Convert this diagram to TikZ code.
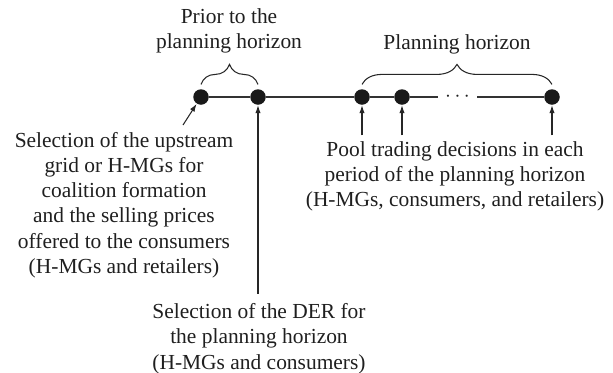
\documentclass[tikz,border=0pt]{standalone}
\usepackage{fontspec}
\setmainfont{Liberation Serif}
\usetikzlibrary{arrows.meta,decorations.pathreplacing}
\begin{document}
\begin{tikzpicture}[
    dot/.style={circle, fill=black!90, inner sep=0pt, minimum size=0.31cm},
    lbl/.style={align=center, text=black!88, font=\fontsize{12.2}{14.4}\selectfont},
    tl/.style={line width=0.6pt, black!80},
    arr/.style={line width=0.6pt, black!85, -{Latex[length=4.5pt,width=3pt]}},
    brc/.style={line width=0.6pt, black!85, decorate, decoration={brace, amplitude=0.4cm}}]
    \useasboundingbox (0,0) rectangle (12.26,-7.44);

    \node[dot] (d1) at (4.02,-1.94) {};
    \node[dot] (d2) at (5.16,-1.94) {};
    \node[dot] (d3) at (7.24,-1.94) {};
    \node[dot] (d4) at (8.04,-1.94) {};
    \node[dot] (d5) at (11.04,-1.94) {};
    \node[lbl, inner sep=0.14cm] (gap) at (9.15,-1.94) {$\cdots$};

    \node[lbl] (prior) at (4.58,-0.62) {Prior to the\\planning horizon};
    \node[lbl] (plan) at (9.14,-0.88) {Planning horizon};
    \node[lbl] (sel) at (2.48,-4.1) {Selection of the upstream\\grid or H-MGs for\\coalition formation\\and the selling prices\\offered to the consumers\\(H-MGs and retailers)};
    \node[lbl] (pool) at (9.1,-3.53) {Pool trading decisions in each\\period of the planning horizon\\(H-MGs, consumers, and retailers)};
    \node[lbl, inner sep=1pt] (der) at (5.18,-6.77) {Selection of the DER for\\the planning horizon\\(H-MGs and consumers)};
    \coordinate (a1) at (3.66,-2.5);

    \draw[tl] (d1) -- (d2) -- (d3) -- (d4) -- (gap.west);
    \draw[tl] (gap.east) -- (d5);

    \draw[brc] ([yshift=0.09cm]d1.north) -- ([yshift=0.09cm]d2.north);
    \draw[brc] ([yshift=0.09cm]d3.north) -- ([yshift=0.09cm]d5.north);

    \draw[arr] (a1) -- (d1);
    \draw[arr] ([yshift=0.15cm]der.north -| d2) -- (d2);
    \draw[arr] (pool.north -| d3) -- (d3);
    \draw[arr] (pool.north -| d4) -- (d4);
    \draw[arr] (pool.north -| d5) -- (d5);
\end{tikzpicture}
\end{document}
